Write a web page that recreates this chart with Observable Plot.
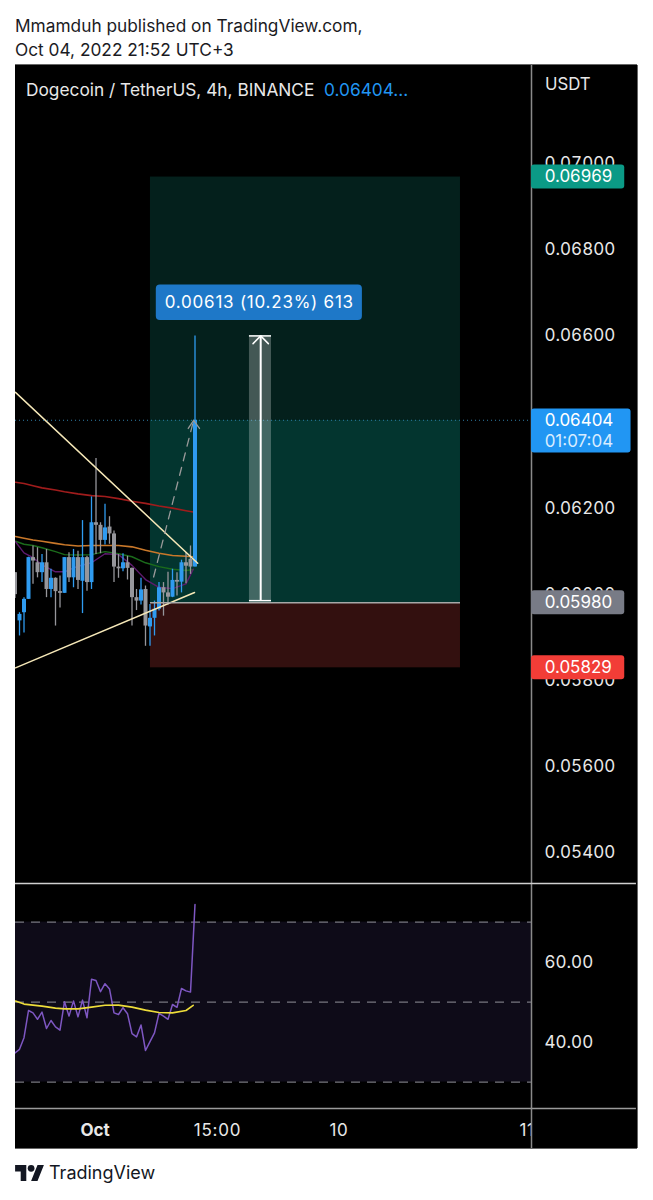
<!DOCTYPE html>
<html><head><meta charset="utf-8">
<script src="https://cdn.jsdelivr.net/npm/d3@7"></script>
<script src="https://cdn.jsdelivr.net/npm/@observablehq/plot@0.6"></script>
<style>
html,body{margin:0;padding:0;background:#fff;width:653px;height:1200px;overflow:hidden;font-family:Inter,Roboto,sans-serif}
.abs{position:absolute;white-space:nowrap}
#chart{position:absolute;left:15px;top:65px;width:622px;height:1083px;background:#000;box-shadow:1px 0 0 #666,0 1px 0 #666,0 -1px 0 #666}
#chart svg{display:block;position:absolute;left:0}
.wide text{letter-spacing:.045em}
</style></head><body>
<div class="abs" style="left:15px;top:14px;font-size:17.3px;line-height:24px;color:#1b1b1f">Mmamduh published on TradingView.com,<br>Oct 04, 2022 21:52 UTC+3</div>
<div id="chart"></div>
<div class="abs" style="left:26px;top:80px;font-size:17.3px;line-height:20px;color:#e8e8e8">Dogecoin / TetherUS, 4h, BINANCE&nbsp; <span style="color:#2196f3">0.06404...</span></div>
<div class="abs" style="left:545px;top:74px;font-size:16.8px;line-height:20px;color:#e8e8e8">USDT</div>
<svg class="abs" style="left:15px;top:1165px" width="29" height="16" viewBox="0 0 36 20"><path fill="#131722" d="M14 20H7V8H0V0h14zM28 20h-8L28 0h8z"/><circle cx="20" cy="4.2" r="4.2" fill="#131722"/></svg>
<div class="abs" style="left:49px;top:1162px;font-size:18px;line-height:22px;color:#131722">TradingView</div>
<script>
// prices are in points (1 point = 0.00001 USDT), the unit the chart's own measure label uses
const barIndex = d3.range(-1, 40);
const opens  = [6050,5938,5957,5988,6085,6073,6050,6073,6011,6037,6006,6002,6085,6038,6085,6030,6085,6027,6166,6160,6125,6156,6140,6063,6059,6073,6060,5992,5984,6011,5924,5944,5965,6015,6003,5993,6032,6028,6073,6081,6063];
const highs  = [6050,5957,5992,6086,6112,6108,6092,6104,6058,6038,6042,6085,6096,6104,6100,6171,6088,6226,6315,6166,6209,6180,6147,6092,6094,6088,6061,6011,6037,6019,5976,5984,6027,6027,6051,6058,6050,6079,6096,6112,6600];
const lows   = [5990,5903,5910,5988,6023,6038,6027,5992,5992,5926,5968,6002,6027,6015,6011,5955,6007,6011,6092,6094,6114,6116,6027,6037,6052,6033,5926,5962,5975,5879,5879,5903,5961,5949,5975,5992,5996,6003,6024,6046,6063];
const closes = [5999,5953,5988,6085,6077,6050,6073,6011,6037,6006,6002,6085,6038,6085,6032,6085,6027,6166,6160,6125,6154,6140,6063,6059,6073,6060,5992,5984,6010,5926,5944,5965,6015,6003,5993,6032,6028,6073,6065,6063,6404];
const maBars   = [-0.9,1,3,5,8,10,13,16,19,22,25,28,31,34,37,38.6];
const maRed    = [6260,6257,6252,6247,6242,6238,6233,6229,6227,6222,6216,6211,6205,6200,6194,6191];
const maOrange = [6134,6130,6126,6123,6118,6115,6112,6113,6113,6113,6110,6102,6095,6090,6088,6087];
const maGreen  = [6123,6116,6113,6108,6099,6092,6091,6092,6099,6094,6087,6073,6064,6058,6055,6057];
const maPurple = [6122,6096,6085,6068,6052,6052,6065,6073,6094,6092,6067,6034,6016,6013,6024,6058];
const rsi = [37.3,38.2,41.1,47.9,47.3,45.7,47.5,43.4,45.4,43.8,43.0,50.1,46.5,50.3,46.3,50.5,46.1,55.7,55.4,52.6,54.6,53.3,47.3,46.9,48.6,47.1,42.1,41.3,44.3,37.9,40.1,42.3,47.2,46.5,45.7,49.4,48.7,53.4,52.8,52.5,74.4];
const rsiMa = [50.25,49.5,49.25,49,48.5,48.3,48.3,48.75,49.2,49.25,48.75,48,47.4,47.3,47.9,49.2];
const priceTicks = [7000,6800,6600,6200,6000,5800,5600,5400];
const rsiTicks = [60,40];
const rsiLevels = [70,50,30];
const trendDown = [{x:-0.9,y:6469},{x:39.6,y:6072}];
const trendUp = [{x:-0.9,y:5829},{x:38.9,y:6004}];
const entry = 5980, target = 6969, stop = 5829, last = 6404;
const flags = [
  {label:"0.06969", v:target, fill:"#0b9a86"},
  {label:"0.05980", v:entry, fill:"#787b86"},
  {label:"0.05829", v:stop, fill:"#f23d37"}
];
const timeTicks = [{x:44,t:"15:00"},{x:71,t:"10"},{x:112.8,t:"11"}];
const monthTicks = [{x:16.8,t:"Oct"}];

const X0 = -0.89, X1 = 113.78, XR = 137.1;   // plot edge, price-axis line, right edge
const xOpt = {domain:[X0,X1], axis:null};
const fmt = d => (d/1e5).toFixed(5);
const bars = barIndex.map((i,k)=>({i,o:opens[k],h:highs[k],l:lows[k],c:closes[k]}));
const up = bars.filter(b=>b.c>=b.o), down = bars.filter(b=>b.c<b.o);
const series = a => a.map((v,k)=>({x:maBars[k],y:v}));
const BLUE="#2f9bf0", GRAY="#96969b", FLAGBLUE="#2196f3";
const F = {fontFamily:"Inter,Roboto,sans-serif"};
const candle = (rows,color)=>[
  Plot.ruleX(rows,{x:"i",y1:"l",y2:"h",stroke:color,strokeWidth:1.3,clip:true}),
  Plot.ruleX(rows,{x:"i",y1:"o",y2:"c",stroke:color,strokeWidth:4,clip:true})
];
const line = (a,stroke,w=1.5)=>Plot.line(series(a),{x:"x",y:"y",stroke,strokeWidth:w,clip:true});

const main = Plot.plot({
  width:622,height:818,margin:0,marginRight:106,
  style:{background:"transparent",overflow:"visible"},
  x:xOpt,
  y:{domain:[5328,7228.1],axis:null},
  marks:[
    Plot.axisY(priceTicks,{anchor:"right",label:null,tickSize:0,tickPadding:13,tickFormat:fmt,fontSize:17,...F,fill:"#e8e8e8"}),
    Plot.rect([{}],{x1:29.1,x2:98,y1:last,y2:target,fill:"#04201c"}),
    Plot.rect([{}],{x1:29.1,x2:98,y1:entry,y2:last,fill:"#03352f"}),
    Plot.rect([{}],{x1:29.1,x2:98,y1:stop,y2:entry,fill:"#33100f"}),
    Plot.ruleY([last],{x1:X0,x2:X1,stroke:"#2f7fa8",strokeDasharray:"1 3"}),
    line(maRed,"#a01c1c",1.6),
    line(maOrange,"#c9782a",1.6),
    line(maGreen,"#1b6b1b",1.4),
    line(maPurple,"#5e1a6e",1.4),
    ...candle(down,GRAY),
    ...candle(up,BLUE),
    Plot.line(trendDown,{x:"x",y:"y",stroke:"#f6e8b8",strokeWidth:1.5,clip:true}),
    Plot.line(trendUp,{x:"x",y:"y",stroke:"#f6e8b8",strokeWidth:1.5,clip:true}),
    Plot.line([{x:29.8,y:6040},{x:38.7,y:6404}],{x:"x",y:"y",stroke:"#9a9a9a",strokeWidth:1.3,strokeDasharray:"8 7"}),
    Plot.line([{x:37.5,y:6385},{x:38.7,y:6404},{x:40,y:6385}],{x:"x",y:"y",stroke:"#9a9a9a",strokeWidth:1.3}),
    Plot.ruleY([entry],{x1:29.1,x2:98,stroke:"#a8a8a8",strokeWidth:1.5}),
    // measure tool
    Plot.rect([{}],{x1:51.1,x2:56,y1:5985,y2:6600,fill:"#fff",fillOpacity:0.25}),
    Plot.ruleX([53.6],{y1:5985,y2:6600,stroke:"#fff",strokeWidth:2}),
    Plot.ruleY([5985,6600],{x1:51.1,x2:56,stroke:"#fff",strokeWidth:1.5}),
    Plot.line([{x:51.9,y:6582},{x:53.6,y:6600},{x:55.3,y:6582}],{x:"x",y:"y",stroke:"#fff",strokeWidth:1.5}),
    Plot.rect([{}],{x1:30.4,x2:76.2,y1:6636,y2:6718,fill:"#1e78c8",rx:4}),
    Plot.text(["0.00613 (10.23%) 613"],{x:53.3,y:6677,fill:"#fff",fontSize:17,className:"wide",...F}),
    Plot.ruleX([X1],{y1:5328,y2:7228.1,stroke:"#8a8a8a",strokeWidth:1.5}),
    // price flags
    Plot.rect(flags,{x1:X1,x2:134.5,y1:d=>d.v-28,y2:d=>d.v+28,fill:"fill",rx:3}),
    Plot.text(flags,{x:116.7,y:"v",text:"label",textAnchor:"start",fill:"#fff",fontSize:17,...F}),
    Plot.rect([{}],{x1:X1,x2:135.9,y1:6328,y2:6430,fill:FLAGBLUE,rx:3}),
    Plot.text(["0.06404"],{x:116.7,y:last,textAnchor:"start",fill:"#fff",fontSize:17,...F}),
    Plot.text(["01:07:04"],{x:116.7,y:6355,textAnchor:"start",fill:"#d8ecff",fontSize:17,...F})
  ],
  color:{type:"identity"}
});
main.style.top="0";

const rsiRows = barIndex.map((i,k)=>({x:i,y:rsi[k]}));
const rsiPlot = Plot.plot({
  width:622,height:225,margin:0,marginRight:106,
  style:{background:"transparent",overflow:"visible"},
  x:xOpt,
  y:{domain:[23.4,79.65],axis:null},
  marks:[
    Plot.rect([{}],{x1:X0,x2:X1,y1:30,y2:70,fill:"#0e0b18"}),
    Plot.ruleY(rsiLevels,{x1:X0,x2:X1,stroke:"#77777f",strokeWidth:1.2,strokeDasharray:"9 7"}),
    Plot.line(rsiRows,{x:"x",y:"y",stroke:"#7e57c2",strokeWidth:1.5,clip:true}),
    Plot.line(rsiMa.map((v,k)=>({x:maBars[k],y:v})),{x:"x",y:"y",stroke:"#eedd3a",strokeWidth:1.6,clip:true}),
    Plot.axisY(rsiTicks,{anchor:"right",label:null,tickSize:0,tickPadding:13,tickFormat:d=>d.toFixed(2),fontSize:17,...F,fill:"#e8e8e8"}),
    Plot.ruleX([X1],{y1:23.4,y2:79.65,stroke:"#8a8a8a",strokeWidth:1.5}),
    Plot.ruleY([79.65],{x1:X0,x2:XR,stroke:"#cfcfcf",strokeWidth:1.5}),
    Plot.ruleY([23.4],{x1:X0,x2:XR,stroke:"#9a9a9a",strokeWidth:1.5})
  ]
});
rsiPlot.style.top="818px";

const timeAxis = Plot.plot({
  width:622,height:40,margin:0,marginRight:106,
  style:{background:"transparent",overflow:"visible"},
  x:xOpt,
  y:{domain:[0,1],axis:null},
  marks:[
    Plot.text(monthTicks,{x:"x",y:0.45,text:"t",fontWeight:"bold",fill:"#e8e8e8",fontSize:17,...F}),
    Plot.text(timeTicks,{x:"x",y:0.45,text:"t",fill:"#e8e8e8",fontSize:17,clip:true,className:"wide",...F}),
    Plot.ruleX([X1],{y1:0,y2:1,stroke:"#8a8a8a",strokeWidth:1.5})
  ]
});
timeAxis.style.top="1043px";
document.getElementById("chart").append(main,rsiPlot,timeAxis);
</script>
</body></html>
